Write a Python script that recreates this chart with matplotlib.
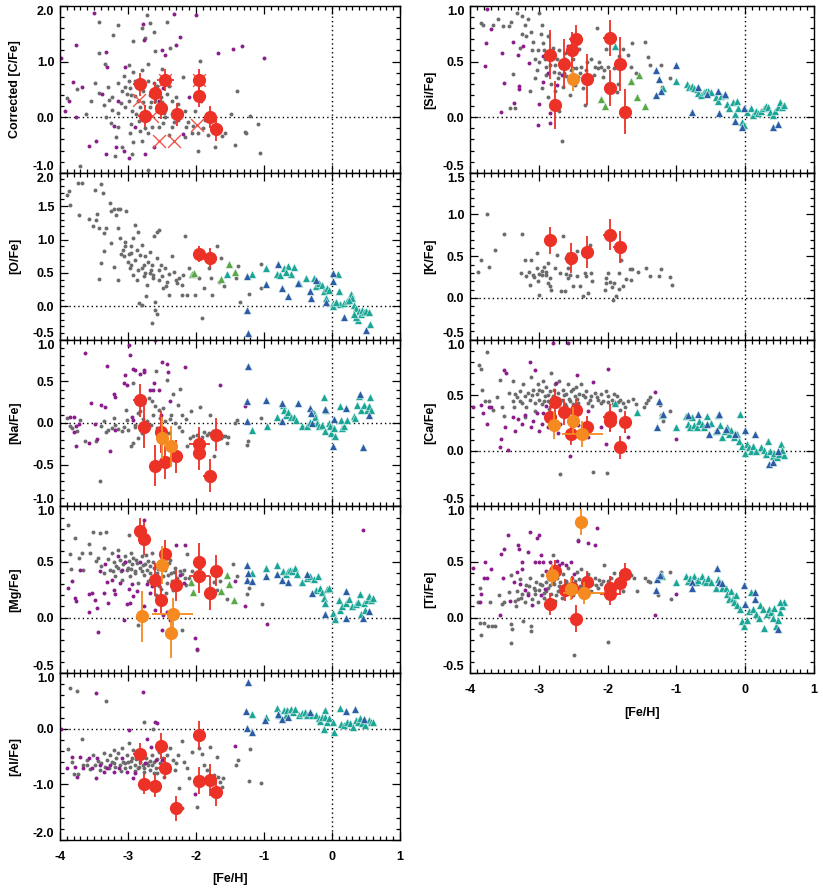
import numpy as np
import matplotlib.pyplot as plt
from matplotlib.ticker import MultipleLocator

plt.rcParams['font.family'] = ['Liberation Sans', 'DejaVu Sans']
plt.rcParams['font.weight'] = 'bold'
plt.rcParams['axes.labelweight'] = 'bold'
plt.rcParams['axes.unicode_minus'] = False

# ---------------------------------------------------------------- data
# points are ([Fe/H], [X/Fe]); red / orange stars carry (x, y, xerr, yerr)

c_grey = [(-3.70, -0.88), (-3.89, 0.35), (-3.75, 0.50), (-3.43, 1.72), (-3.43, 1.15), (-3.34, 0.96),
          (-3.48, 0.61), (-3.43, 0.43), (-3.28, 0.31), (-3.23, 0.13), (-3.33, 0.0), (-3.22, 1.47),
          (-3.15, 1.66), (-3.06, 0.74), (-2.99, 0.94), (-2.97, 0.52), (-2.92, 0.82), (-2.89, 0.38),
          (-3.04, 0.19), (-3.14, 0.07), (-2.97, -0.29), (-3.09, -0.53), (-3.19, -0.70), (-2.94, -0.67),
          (-2.92, 1.37), (-2.80, 1.60), (-2.72, 1.84), (-2.67, 1.69), (-2.62, 1.54), (-2.75, 1.42),
          (-2.60, 1.19), (-2.70, 0.96), (-2.80, 0.84), (-2.70, 0.66), (-2.58, 0.57), (-2.60, 0.30),
          (-2.67, 0.18), (-2.55, -0.18), (-2.70, -0.29), (-2.80, -0.42), (-2.70, -0.95), (-2.43, 1.72),
          (-2.38, 1.25), (-2.50, 0.86), (-2.40, 0.57), (-2.36, 0.30), (-2.45, 0.0), (-2.26, 0.24),
          (-2.19, 0.72), (-2.16, 0.12), (-2.14, -0.18), (-2.01, 0.12), (-1.94, 1.01), (-1.92, 0.30),
          (-1.87, -0.05), (-1.97, -0.29), (-1.72, -0.23), (-1.65, -0.17), (-1.58, -0.29), (-1.72, -0.53),
          (-1.48, 0.06), (-1.42, -0.50), (-1.40, 0.48), (-1.28, -0.27), (-1.26, -0.29), (-1.21, 0.03),
          (-1.09, -0.12), (-1.06, -0.64), (-2.16, -0.35), (-2.06, -0.29), (-2.36, -0.18), (-2.26, -0.05),
          (-2.94, 0.12), (-2.84, -0.06), (-3.14, -0.18), (-3.23, 0.36), (-3.09, 0.48), (-2.99, 0.30),
          (-2.89, 0.66), (-2.82, 0.18), (-2.55, 0.48), (-2.45, 0.18), (-2.30, 0.36), (-2.65, -0.18),
          (-2.36, 0.06), (-1.97, -0.60), (-3.02, 0.42), (-2.86, 0.55), (-2.78, 0.28), (-2.68, 0.40),
          (-2.58, 0.12), (-2.50, 0.28), (-2.88, 0.05), (-3.10, 0.25), (-2.95, -0.12), (-2.75, -0.20),
          (-2.62, 0.62), (-2.48, -0.10), (-3.30, 0.55), (-3.18, -0.35), (-2.40, -0.32), (-3.05, 0.55),
          (-2.95, 0.40), (-2.85, 0.30), (-2.78, 0.48), (-2.72, 0.10), (-2.66, 0.28), (-2.60, 0.45),
          (-2.52, 0.36), (-2.47, 0.08), (-2.42, 0.42), (-2.33, -0.08), (-2.22, 0.02), (-2.12, -0.08),
          (-2.05, -0.15), (-1.90, -0.20), (-1.82, -0.32), (-1.62, -0.33), (-3.35, 0.22), (-3.15, 0.62),
          (-2.98, 0.65), (-2.83, -0.25), (-2.92, -0.45), (-3.25, -0.10), (-3.55, 0.30), (-3.62, 0.05)]
c_purple = [(-3.99, 1.06), (-3.76, 1.30), (-3.81, 0.63), (-3.50, 1.88), (-3.33, 1.18), (-3.31, 0.91),
            (-3.38, 0.42), (-3.57, -0.52), (-3.47, -0.43), (-3.33, -0.67), (-3.18, -0.53), (-3.06, -0.60),
            (-2.99, -0.73), (-2.89, -0.18), (-3.04, 0.91), (-2.77, 1.38), (-2.78, 1.67), (-2.50, 1.20),
            (-2.45, 1.11), (-2.33, 1.85), (-2.30, 1.30), (-2.23, 1.44), (-2.00, 1.83), (-1.68, 1.15),
            (-1.46, 1.22), (-1.32, 1.28), (-1.00, 1.07), (-2.48, 0.52), (-2.55, 0.30), (-3.14, 0.30),
            (-3.21, -0.15), (-2.75, -0.67), (-2.62, -0.54), (-2.19, -0.30), (-3.77, 0.0), (-3.92, 0.12),
            (-3.67, 0.55), (-3.87, 0.30), (-2.11, 0.36)]
c_cross = [(-2.84, 0.31), (-2.64, 0.03), (-2.54, -0.43), (-2.32, -0.43), (-1.98, -0.14),
           (-2.45, 0.67), (-1.95, 0.67)]
c_red = [(-2.82, 0.59, 0.1, 0.2), (-2.61, 0.43, 0.05, 0.2), (-2.45, 0.67, 0.12, 0.2),
         (-2.75, 0.02, 0.1, 0.2), (-2.52, 0.16, 0.05, 0.2), (-2.28, 0.05, 0.05, 0.2),
         (-1.95, 0.67, 0.1, 0.2), (-1.95, 0.38, 0.1, 0.2), (-1.80, 0.0, 0.05, 0.2),
         (-1.71, -0.22, 0.05, 0.2)]

o_grey = [(-3.89, 1.66), (-3.87, 1.72), (-3.86, 1.51), (-3.73, 1.85), (-3.68, 1.84), (-3.72, 1.37),
          (-3.57, 1.31), (-3.52, 1.21), (-3.48, 1.74), (-3.40, 1.83), (-3.37, 1.70), (-3.47, 1.30),
          (-3.46, 1.38), (-3.42, 1.18), (-3.40, 0.65), (-3.42, 0.41), (-3.36, 0.83), (-3.35, 1.10),
          (-3.32, 1.18), (-3.27, 1.55), (-3.25, 1.42), (-3.20, 1.46), (-3.17, 1.37), (-3.15, 1.45),
          (-3.12, 1.46), (-3.03, 1.42), (-3.20, 0.59), (-3.14, 0.39), (-3.14, 1.17), (-3.12, 1.02),
          (-3.08, 0.85), (-3.06, 0.75), (-3.04, 0.97), (-3.00, 0.67), (-2.97, 0.57), (-2.95, 0.80),
          (-2.93, 0.47), (-2.92, 1.02), (-2.90, 1.22), (-2.87, 0.85), (-2.87, 0.40), (-2.85, 1.12),
          (-2.83, 0.77), (-2.80, 0.57), (-2.79, 0.92), (-2.77, 0.45), (-2.84, 0.05), (-2.80, 0.02),
          (-2.75, 0.76), (-2.74, 0.15), (-2.72, 0.32), (-2.70, 0.67), (-2.68, 0.82), (-2.66, 0.55),
          (-2.63, 0.42), (-2.62, 1.05), (-2.58, 1.12), (-2.55, 1.14), (-2.60, 0.07), (-2.58, -0.12),
          (-2.60, -0.05), (-2.63, 0.47), (-2.57, 0.72), (-2.52, 0.62), (-2.49, 0.27), (-2.46, 0.57),
          (-2.42, 0.37), (-2.39, 0.17), (-2.35, 0.75), (-2.32, 0.52), (-2.28, 0.35), (-2.25, 0.42),
          (-2.21, 0.17), (-2.19, 0.47), (-2.16, 1.05), (-2.13, 0.17), (-2.11, 0.57), (-2.01, 0.17),
          (-1.96, 0.42), (-1.91, -0.18), (-1.88, 0.27), (-1.81, 0.57), (-1.78, 0.42), (-1.76, 0.17),
          (-1.69, 0.91), (-1.66, 0.37), (-1.63, 0.72), (-1.59, 0.30), (-1.41, 0.43), (-1.38, 0.61),
          (-1.35, 0.06), (-1.22, 0.18), (-1.04, 0.63), (-1.05, 0.27), (-2.64, -0.25), (-2.98, 0.78),
          (-2.76, 0.62), (-2.54, 0.40), (-2.44, 0.30), (-2.68, 0.50), (-3.05, 0.90), (-2.90, 0.70),
          (-3.10, 0.78), (-2.95, 0.62), (-2.85, 0.55), (-2.75, 0.50), (-2.65, 0.62), (-2.55, 0.55),
          (-2.50, 0.45), (-2.40, 0.48), (-2.30, 0.40), (-2.20, 0.32), (-2.95, 0.90), (-3.25, 0.95)]
o_green = [(-2.06, 0.49), (-2.03, 0.50), (-1.63, 0.41), (-1.51, 0.63), (-1.43, 0.52)]
o_teal = [(-1.54, 0.49), (-1.18, 0.49), (-0.97, 0.58), (-0.81, 0.49), (-0.76, 0.47), (-0.70, 0.58),
          (-0.65, 0.60), (-0.60, 0.48), (-0.56, 0.59), (-0.68, 0.51), (-0.49, 0.35), (-0.38, 0.43),
          (-0.27, 0.43), (-0.24, 0.30), (-0.19, 0.35), (-0.15, 0.32), (-0.12, 0.23), (-0.09, 0.13),
          (-0.07, 0.28), (-0.04, 0.25), (0.01, 0.05), (0.02, 0.0), (0.09, 0.49), (0.11, 0.23),
          (0.12, 0.03), (0.17, 0.05), (0.22, 0.08), (0.28, 0.18), (0.29, 0.12), (0.33, 0.02),
          (0.36, -0.02), (0.39, -0.07), (0.42, -0.12), (0.44, -0.05), (0.47, -0.08), (0.50, -0.07),
          (0.54, -0.08), (0.56, -0.27), (0.38, -0.20), (0.35, -0.16), (0.32, -0.12), (0.25, 0.10),
          (0.06, 0.07)]
o_blue = [(-1.25, 0.45), (-1.25, -0.05), (-1.23, -0.40), (-0.97, 0.33), (-0.79, 0.64), (-0.74, 0.27),
          (-0.65, 0.16), (-0.50, 0.35), (-0.33, 0.23), (-0.31, 0.12), (-0.24, 0.40), (-0.09, 0.07),
          (0.01, 0.50), (0.01, 0.38), (0.17, -0.16), (0.50, -0.36)]
o_red = [(-1.95, 0.79, 0.1, 0.12), (-1.80, 0.73, 0.1, 0.15)]

na_grey = [(-3.90, 0.06), (-3.85, -0.03), (-3.83, -0.06), (-3.71, 0.03), (-3.75, -0.10), (-3.63, -0.22),
           (-3.47, -0.21), (-3.41, -0.70), (-3.39, -0.03), (-3.36, 0.02), (-3.32, -0.11), (-3.29, -0.08),
           (-3.24, -0.06), (-3.21, 0.06), (-3.19, -0.02), (-3.14, -0.07), (-3.09, -0.10), (-3.06, -0.05),
           (-3.03, 0.16), (-3.01, 0.04), (-2.96, -0.28), (-2.93, -0.24), (-2.92, 0.48), (-2.89, -0.05),
           (-2.86, -0.18), (-2.85, 0.12), (-2.82, 0.14), (-2.80, -0.12), (-2.76, 0.24), (-2.72, 0.02),
           (-2.71, -0.06), (-2.69, 0.30), (-2.65, 0.26), (-2.63, 0.10), (-2.61, 0.20), (-2.59, 0.62),
           (-2.58, -0.06), (-2.55, 0.15), (-2.53, 0.06), (-2.48, 0.18), (-2.45, 0.02), (-2.43, 0.52),
           (-2.40, -0.12), (-2.37, 0.09), (-2.34, 0.35), (-2.31, 0.0), (-2.27, 0.21), (-2.24, 0.41),
           (-2.21, -0.10), (-2.20, 0.10), (-2.13, -0.28), (-2.09, -0.18), (-2.08, 0.14), (-2.05, -0.15),
           (-1.99, -0.14), (-1.94, 0.19), (-1.91, -0.17), (-1.88, -0.11), (-1.84, -0.14), (-1.81, -0.12),
           (-1.79, 0.09), (-1.75, -0.10), (-1.69, -0.16), (-1.67, -0.14), (-1.63, -0.18), (-1.60, -0.16),
           (-1.57, -0.15), (-1.54, -0.24), (-1.53, -0.17), (-1.42, 0.0), (-1.39, 0.03), (-1.25, -0.26),
           (-1.24, -0.22), (-1.05, 0.06), (-1.74, -0.39), (-2.90, -0.02), (-2.78, 0.05), (-2.66, -0.02),
           (-2.52, -0.05), (-2.38, 0.05), (-2.25, -0.05), (-2.15, 0.05), (-3.00, -0.08)]
na_purple = [(-3.86, 0.07), (-3.79, 0.07), (-3.76, -0.03), (-3.72, -0.01), (-3.80, -0.11), (-3.76, -0.28),
             (-3.63, 0.84), (-3.58, -0.24), (-3.54, 0.24), (-3.49, -0.01), (-3.46, -0.19), (-3.39, 0.21),
             (-3.34, 0.19), (-3.31, 0.68), (-3.26, -0.33), (-3.21, 0.35), (-3.19, 0.31), (-3.19, -0.08),
             (-2.99, 0.94), (-2.97, 0.81), (-3.04, 0.57), (-3.06, 0.48), (-3.02, 0.45), (-2.93, 0.65),
             (-2.89, 0.64), (-2.94, 0.07), (-2.92, 0.04), (-2.83, 0.59), (-2.77, 0.61), (-2.76, 0.63),
             (-2.67, 0.40), (-2.62, 0.48), (-2.63, 0.39), (-2.60, 1.0), (-2.50, 0.73), (-2.43, 0.71),
             (-2.41, 0.61), (-2.54, 0.39), (-2.38, 0.26), (-2.16, 0.67), (-1.65, 0.45), (-1.28, 0.20),
             (-2.51, 0.10)]
na_blue = [(-1.24, 0.68), (-1.25, 0.26), (-1.25, 0.02), (-0.97, 0.28), (-0.74, 0.24), (-0.73, 0.02),
           (-0.50, 0.24), (-0.33, 0.18), (-0.31, 0.12), (-0.10, 0.17), (0.02, -0.27), (0.03, 0.05),
           (0.20, 0.18), (0.41, 0.35), (0.46, -0.29), (0.54, 0.09), (-0.29, 0.0)]
na_teal = [(-1.17, -0.08), (-0.96, -0.04), (-0.81, 0.07), (-0.72, 0.22), (-0.70, 0.15), (-0.67, 0.09),
           (-0.64, 0.13), (-0.60, 0.07), (-0.56, 0.07), (-0.53, 0.03), (-0.44, -0.03), (-0.37, -0.04),
           (-0.32, 0.01), (-0.27, 0.12), (-0.25, 0.07), (-0.22, 0.0), (-0.19, -0.03), (-0.15, -0.02),
           (-0.12, 0.31), (-0.10, -0.10), (-0.09, 0.15), (-0.05, 0.0), (-0.03, -0.03), (-0.01, -0.12),
           (0.03, -0.06), (0.04, -0.16), (0.12, 0.20), (0.13, 0.04), (0.15, -0.06), (0.18, -0.04),
           (0.22, 0.04), (0.32, 0.08), (0.34, 0.06), (0.37, 0.22), (0.39, 0.32), (0.43, 0.15),
           (0.47, 0.22), (0.51, 0.16), (0.54, 0.20), (0.58, 0.16), (0.56, 0.31)]
na_red = [(-2.82, 0.27, 0.1, 0.2), (-2.76, -0.05, 0.05, 0.25), (-2.61, -0.51, 0.05, 0.25),
          (-2.52, -0.11, 0.05, 0.25), (-2.46, -0.47, 0.05, 0.2), (-2.29, -0.40, 0.05, 0.2),
          (-1.95, -0.25, 0.15, 0.2), (-1.95, -0.36, 0.05, 0.2), (-1.80, -0.63, 0.1, 0.2),
          (-1.71, -0.14, 0.05, 0.2)]
na_orange = [(-2.50, -0.18, 0.05, 0.25), (-2.37, -0.28, 0.1, 0.25)]

mg_grey = [(-3.88, 0.83), (-3.85, 0.57), (-3.84, 0.44), (-3.78, 0.72), (-3.72, 0.54), (-3.67, 0.58),
           (-3.66, 0.43), (-3.58, 0.66), (-3.56, 0.58), (-3.51, 0.77), (-3.47, 0.51), (-3.44, 0.54),
           (-3.41, 0.76), (-3.39, 0.46), (-3.36, 0.63), (-3.32, 0.77), (-3.29, 0.53), (-3.26, 0.43),
           (-3.24, 0.58), (-3.21, 0.50), (-3.19, 0.37), (-3.17, 0.46), (-3.14, 0.61), (-3.12, 0.52),
           (-3.09, 0.34), (-3.07, 0.48), (-3.04, 0.55), (-3.02, 0.43), (-2.99, 0.51), (-2.98, 0.74),
           (-2.97, 0.37), (-2.94, 0.48), (-2.92, 0.54), (-2.89, 0.42), (-2.87, 0.49), (-2.85, 0.31),
           (-2.82, 0.45), (-2.80, 0.55), (-2.77, 0.38), (-2.75, 0.48), (-2.72, 0.43), (-2.70, 0.51),
           (-2.67, 0.40), (-2.65, 0.58), (-2.62, 0.45), (-2.60, 0.34), (-2.58, 0.40), (-2.55, 0.28),
           (-2.53, 0.48), (-2.48, 0.37), (-2.45, 0.43), (-2.43, 0.31), (-2.40, 0.49), (-2.37, 0.40),
           (-2.34, 0.25), (-2.31, 0.45), (-2.28, 0.36), (-2.24, 0.42), (-2.21, 0.39), (-2.18, 0.43),
           (-2.14, 0.29), (-2.13, 0.57), (-2.11, 0.36), (-2.06, 0.42), (-1.99, 0.34), (-1.94, 0.45),
           (-1.89, 0.39), (-1.80, 0.27), (-1.74, 0.32), (-1.69, 0.25), (-1.64, 0.33), (-1.54, 0.17),
           (-1.45, 0.48), (-1.40, 0.37), (-1.25, 0.21), (-1.22, 0.27), (-1.03, 0.12), (-2.86, -0.07),
           (-2.21, -0.11), (-1.99, -0.29), (-2.59, 0.20), (-3.00, 0.45), (-2.90, 0.40), (-2.78, 0.47),
           (-2.68, 0.46), (-2.56, 0.44), (-2.50, 0.52), (-2.35, 0.33), (-3.10, 0.42), (-2.95, 0.58),
           (-3.15, 0.45), (-3.05, 0.50), (-2.96, 0.44), (-2.88, 0.52), (-2.80, 0.42), (-2.73, 0.56),
           (-2.63, 0.50), (-2.57, 0.36), (-2.47, 0.45), (-2.41, 0.38), (-2.32, 0.41), (-2.26, 0.32),
           (-2.16, 0.36), (-2.08, 0.30), (-3.22, 0.42), (-3.35, 0.40), (-2.70, 0.33), (-2.52, 0.26),
           (-2.44, 0.22), (-2.38, 0.52)]
mg_purple = [(0.46, 0.79), (-0.96, -0.06), (-1.28, 0.10), (-1.42, 0.33), (-2.01, -0.18), (-1.99, -0.28),
             (-2.16, 0.65), (-2.76, 0.88), (-3.88, 0.27), (-3.78, 0.18), (-3.76, 0.15), (-3.83, 0.33),
             (-3.71, 0.43), (-3.58, 0.21), (-3.57, 0.05), (-3.53, 0.22), (-3.48, 0.16), (-3.46, 0.09),
             (-3.44, -0.13), (-3.41, 0.42), (-3.36, 0.22), (-3.34, 0.48), (-3.31, 0.32), (-3.29, 0.13),
             (-3.24, 0.34), (-3.21, 0.25), (-3.19, 0.21), (-3.14, 0.55), (-3.12, 0.31), (-3.09, 0.43),
             (-3.06, -0.02), (-3.04, 0.50), (-3.02, 0.12), (-2.99, 0.26), (-2.94, 0.30), (-2.92, 0.19),
             (-2.87, 0.24), (-2.82, 0.50), (-2.77, 0.10), (-2.72, 0.30), (-2.67, 0.22), (-2.65, 0.28),
             (-2.61, 0.07), (-2.58, 0.46), (-2.54, 0.31), (-2.50, -0.11), (-2.48, 0.02), (-2.43, 0.05),
             (-2.38, -0.02), (-2.30, 0.65), (-2.23, 0.38), (-2.18, 0.31), (-2.97, 0.13)]
mg_green = [(-2.08, 0.32), (-2.04, 0.23), (-1.63, 0.24), (-1.52, 0.30), (-1.44, 0.16), (-1.54, 0.38)]
mg_blue = [(-1.25, 0.47), (-1.25, 0.34), (-1.24, 0.40), (-1.17, 0.33), (-0.97, 0.37), (-0.81, 0.39),
           (-0.74, 0.34), (-0.65, 0.32), (-0.37, 0.39), (-0.29, 0.22), (-0.10, 0.03), (0.20, 0.24),
           (0.20, 0.0), (0.46, 0.0), (0.54, 0.06)]
mg_teal = [(-1.17, 0.40), (-0.97, 0.45), (-0.81, 0.47), (-0.72, 0.42), (-0.68, 0.39), (-0.65, 0.42),
           (-0.62, 0.43), (-0.59, 0.42), (-0.55, 0.45), (-0.52, 0.39), (-0.44, 0.32), (-0.37, 0.36),
           (-0.33, 0.37), (-0.27, 0.35), (-0.24, 0.25), (-0.20, 0.37), (-0.17, 0.27), (-0.15, 0.23),
           (-0.12, 0.18), (-0.10, 0.13), (-0.08, 0.26), (-0.05, 0.27), (0.02, 0.04), (0.04, -0.01),
           (0.10, 0.16), (0.12, 0.07), (0.15, 0.10), (0.20, 0.13), (0.25, 0.17), (0.30, 0.10),
           (0.35, 0.12), (0.38, 0.14), (0.41, 0.21), (0.43, 0.03), (0.47, 0.13), (0.51, 0.16),
           (0.54, 0.19), (0.58, 0.16), (0.61, 0.18), (0.49, 0.07)]
mg_red = [(-2.82, 0.78, 0.05, 0.12), (-2.76, 0.71, 0.05, 0.15), (-2.61, 0.34, 0.05, 0.15),
          (-2.52, 0.16, 0.05, 0.12), (-2.46, 0.57, 0.05, 0.13), (-2.29, 0.29, 0.05, 0.14),
          (-1.95, 0.50, 0.05, 0.17), (-1.95, 0.37, 0.15, 0.15), (-1.80, 0.22, 0.05, 0.15),
          (-1.71, 0.42, 0.05, 0.14)]
mg_orange = [(-2.79, 0.01, 0.05, 0.23), (-2.50, 0.47, 0.05, 0.17), (-2.34, 0.03, 0.3, 0.15),
             (-2.37, -0.14, 0.08, 0.22)]

al_grey = [(-3.85, 0.74), (-3.75, 0.68), (-3.32, 0.50), (-3.88, -0.37), (-3.83, -0.60), (-3.80, -0.81),
           (-3.73, -0.81), (-3.68, -0.19), (-3.66, -0.65), (-3.61, -0.56), (-3.56, -0.72), (-3.51, -0.47),
           (-3.48, -0.65), (-3.44, -0.58), (-3.41, -0.74), (-3.36, -0.44), (-3.34, -0.68), (-3.31, -0.56),
           (-3.26, -0.48), (-3.24, -0.60), (-3.21, -0.38), (-3.19, -0.68), (-3.17, -0.52), (-3.14, -0.44),
           (-3.12, -0.65), (-3.09, -0.35), (-3.07, -0.59), (-3.04, -0.71), (-3.02, -0.47), (-2.99, -0.26),
           (-2.97, -0.68), (-2.94, -0.53), (-2.92, -0.38), (-2.89, -0.65), (-2.87, -0.50), (-2.85, -0.71),
           (-2.82, -0.59), (-2.80, -0.41), (-2.77, -0.71), (-2.76, 0.12), (-2.73, -0.53), (-2.70, -0.65),
           (-2.67, -0.74), (-2.65, -0.47), (-2.63, 0.0), (-2.62, -0.59), (-2.59, -0.71), (-2.55, -0.41),
           (-2.53, -0.62), (-2.49, -0.53), (-2.47, -0.86), (-2.43, -0.48), (-2.41, -0.65), (-2.38, -0.35),
           (-2.34, -0.56), (-2.31, -0.74), (-2.27, -0.47), (-2.25, -1.07), (-2.21, -0.22), (-2.17, -0.59),
           (-2.13, -0.71), (-2.11, -0.89), (-2.06, -0.41), (-1.99, -1.41), (-1.96, -0.35), (-1.91, -0.46),
           (-1.88, -0.65), (-1.84, -0.74), (-1.79, -0.32), (-1.74, -0.83), (-1.69, -0.50), (-1.67, -0.86),
           (-1.64, -0.95), (-1.62, -1.05), (-1.60, -0.89), (-1.41, -0.65), (-1.38, -0.57), (-1.22, -0.93),
           (-1.20, -0.36), (-1.04, -0.98), (-2.21, -1.43), (-3.00, -0.60), (-2.90, -0.75), (-2.78, -0.66),
           (-2.68, -0.58), (-2.58, -0.80), (-2.45, -0.72), (-3.10, -0.76), (-3.28, -0.70), (-3.20, -0.62),
           (-3.05, -0.62), (-2.95, -0.58), (-2.84, -0.68), (-2.72, -0.62), (-2.64, -0.66), (-2.57, -0.55),
           (-2.50, -0.68), (-2.40, -0.75), (-2.30, -0.62), (-3.40, -0.62), (-3.60, -0.66), (-2.88, -0.55),
           (-2.76, -0.78), (-2.62, -0.80)]
al_purple = [(-3.98, 0.0), (-3.83, -0.50), (-3.90, -0.71), (-3.78, -0.68), (-3.71, -0.50), (-3.58, -0.53),
             (-3.53, -0.71), (-3.47, 0.64), (-3.46, -0.53), (-3.41, -0.65), (-3.36, -0.77), (-3.31, -0.71),
             (-3.26, -0.65), (-3.21, -0.77), (-3.13, -0.71), (-3.09, -0.53), (-3.02, -0.77), (-2.98, -0.02),
             (-2.92, -0.89), (-2.89, -0.80), (-2.78, 0.66), (-2.75, -0.62), (-2.72, -0.19), (-2.66, -0.32),
             (-2.60, 0.13), (-2.57, 0.10), (-2.59, -0.56), (-2.50, -0.56), (-2.44, -0.77), (-2.01, -1.17),
             (-1.42, -0.31), (-3.75, -0.86), (-3.66, -0.71), (-3.47, -0.89)]
al_blue = [(-1.23, 0.84), (-1.26, 0.32), (-1.25, 0.02), (-1.18, -0.06), (-0.98, 0.16), (-0.80, 0.27),
           (-0.73, 0.17), (-0.65, 0.22), (-0.33, 0.30), (0.20, 0.32), (0.34, 0.36), (0.47, 0.18)]
al_teal = [(-1.18, 0.26), (-0.97, 0.22), (-0.81, 0.37), (-0.78, 0.25), (-0.71, 0.34), (-0.68, 0.25),
           (-0.66, 0.33), (-0.61, 0.36), (-0.57, 0.31), (-0.54, 0.36), (-0.49, 0.24), (-0.44, 0.28),
           (-0.39, 0.31), (-0.37, 0.25), (-0.29, 0.25), (-0.24, 0.25), (-0.19, 0.19), (-0.17, 0.14),
           (-0.14, 0.22), (-0.11, 0.34), (-0.10, 0.22), (-0.07, 0.12), (-0.05, 0.19), (0.02, 0.12),
           (0.03, -0.06), (0.12, 0.38), (0.13, 0.08), (0.17, 0.06), (0.22, 0.13), (0.27, 0.10),
           (0.31, 0.04), (0.35, 0.16), (0.38, 0.13), (0.41, 0.19), (0.44, 0.10), (0.49, 0.07),
           (0.54, 0.16), (0.58, 0.13), (0.61, 0.12), (-0.12, 0.0)]
al_red = [(-2.82, -0.46, 0.1, 0.2), (-2.76, -0.99, 0.05, 0.18), (-2.61, -1.02, 0.05, 0.2),
          (-2.52, -0.31, 0.05, 0.24), (-2.46, -0.71, 0.1, 0.2), (-2.29, -1.43, 0.05, 0.22),
          (-1.95, -0.11, 0.1, 0.25), (-1.95, -0.93, 0.05, 0.25), (-1.80, -0.92, 0.05, 0.28),
          (-1.71, -1.13, 0.05, 0.25)]

si_grey = [(-3.84, 0.85), (-3.81, 0.83), (-3.66, 0.83), (-3.59, 0.88), (-3.52, 0.82), (-3.44, 0.82),
           (-3.40, 0.86), (-3.32, 0.94), (-3.42, 0.08), (-3.35, 0.08), (-3.37, 0.39), (-3.25, 0.91),
           (-3.20, 0.83), (-3.18, 0.73), (-3.15, 0.88), (-3.13, 0.24), (-3.11, 0.77), (-3.08, 0.68),
           (-3.06, 0.52), (-3.03, 0.42), (-3.01, 0.60), (-2.99, 0.94), (-2.97, 0.75), (-2.95, 0.26),
           (-2.94, 0.67), (-2.91, 0.52), (-2.89, 0.38), (-2.86, 0.73), (-2.86, 0.18), (-2.84, 0.47),
           (-2.82, 0.30), (-2.79, 0.62), (-2.78, 0.41), (-2.77, 0.24), (-2.74, 0.52), (-2.72, 0.35),
           (-2.71, 0.06), (-2.68, 0.45), (-2.67, -0.21), (-2.65, 0.27), (-2.62, 0.58), (-2.60, 0.37),
           (-2.57, 0.47), (-2.55, 0.20), (-2.53, 0.42), (-2.50, 0.52), (-2.48, 0.29), (-2.43, 0.36),
           (-2.41, 0.61), (-2.38, 0.45), (-2.36, 0.26), (-2.33, 0.11), (-2.31, 0.42), (-2.29, 0.33),
           (-2.24, 0.52), (-2.19, 0.45), (-2.15, 0.80), (-2.14, 0.44), (-2.10, 0.45), (-2.07, 0.36),
           (-2.03, 0.61), (-2.00, 0.45), (-1.99, 0.30), (-1.90, 0.44), (-1.87, 0.23), (-1.83, 0.55),
           (-1.78, 0.61), (-1.71, 0.56), (-1.66, 0.45), (-1.65, 0.67), (-1.58, 0.40), (-1.46, 0.68),
           (-1.42, 0.54), (-1.38, 0.47), (-1.23, 0.47), (-1.21, 0.27), (-1.09, 0.35), (-1.85, 0.30),
           (-3.05, 0.35), (-2.92, 0.60), (-2.80, 0.15), (-2.64, 0.40), (-2.46, 0.44), (-3.28, 0.62),
           (-3.10, 0.60), (-3.00, 0.50), (-2.90, 0.45), (-2.83, 0.55), (-2.76, 0.47), (-2.70, 0.40),
           (-2.60, 0.50), (-2.50, 0.44), (-2.40, 0.40), (-2.30, 0.50), (-2.20, 0.38), (-2.12, 0.50),
           (-2.05, 0.42), (-3.25, 0.75), (-2.96, 0.83), (-2.70, 0.60)]
si_purple = [(-3.75, 0.97), (-3.77, 0.67), (-3.78, 0.46), (-3.70, 0.79), (-3.53, 0.58), (-3.50, 0.31),
             (-3.55, 0.05), (-3.38, 0.68), (-3.36, 0.13), (-3.30, 0.56), (-3.29, 0.28), (-3.29, 0.25),
             (-3.23, 0.64), (-3.14, 0.49), (-3.01, -0.07), (-3.00, 0.12), (-2.94, 0.55), (-2.94, 0.32),
             (-2.87, 0.40), (-2.84, -0.05), (-2.84, 0.04), (-2.73, 0.29), (-2.67, 0.38), (-2.62, 0.52),
             (-2.57, 0.64)]
si_green = [(-2.10, 0.16), (-2.04, 0.10), (-1.66, 0.33), (-1.57, 0.18), (-1.54, 0.38), (-1.46, 0.10)]
si_teal = [(-1.89, 0.64), (-1.20, 0.26), (-1.00, 0.33), (-0.85, 0.30), (-0.81, 0.27), (-0.78, 0.28),
           (-0.74, 0.26), (-0.70, 0.25), (-0.68, 0.22), (-0.64, 0.20), (-0.60, 0.23), (-0.57, 0.24),
           (-0.54, 0.24), (-0.50, 0.23), (-0.43, 0.18), (-0.40, 0.15), (-0.35, 0.19), (-0.30, 0.20),
           (-0.26, 0.12), (-0.23, 0.08), (-0.18, 0.14), (-0.15, 0.03), (-0.12, 0.15), (-0.10, 0.08),
           (-0.04, -0.04), (-0.02, -0.07), (0.03, 0.05), (0.08, 0.08), (0.12, 0.02), (0.15, 0.06),
           (0.19, 0.04), (0.23, 0.06), (0.27, 0.08), (0.30, 0.10), (0.33, 0.09), (0.36, 0.05),
           (0.40, 0.02), (0.43, 0.06), (0.47, 0.09), (0.50, 0.14), (0.54, 0.09), (0.57, 0.11)]
si_blue = [(-1.29, 0.42), (-1.26, 0.34), (-1.22, 0.24), (-1.29, 0.20), (-1.00, 0.47), (-0.78, 0.05),
           (-0.69, 0.27), (-0.55, 0.21), (-0.39, 0.24), (-0.38, 0.04), (-0.29, 0.21), (-0.15, -0.03),
           (-0.04, -0.09), (-0.02, 0.08), (0.40, -0.09), (0.48, -0.06)]
si_red = [(-2.83, 0.56, 0.1, 0.22), (-2.76, 0.11, 0.05, 0.22), (-2.63, 0.48, 0.05, 0.22),
          (-2.52, 0.60, 0.05, 0.17), (-2.46, 0.70, 0.1, 0.13), (-2.30, 0.34, 0.05, 0.23),
          (-1.96, 0.71, 0.1, 0.16), (-1.96, 0.26, 0.05, 0.16), (-1.82, 0.48, 0.05, 0.24),
          (-1.74, 0.05, 0.05, 0.2)]
si_orange = [(-2.50, 0.34, 0.05, 0.1)]

k_grey = [(-3.88, 0.31), (-3.84, 0.46), (-3.75, 1.01), (-3.72, 0.37), (-3.64, 0.58), (-3.50, 0.77),
          (-3.26, 0.30), (-3.24, 0.77), (-3.20, 0.46), (-3.19, 0.26), (-3.14, 0.31), (-3.13, 0.15),
          (-3.12, 0.45), (-3.08, 0.28), (-3.07, 0.25), (-3.03, 0.36), (-3.02, 0.54), (-3.01, 0.20),
          (-3.00, 0.04), (-2.99, 0.29), (-2.96, 0.32), (-2.95, 0.27), (-2.92, 0.37), (-2.90, 0.31),
          (-2.89, 0.28), (-2.87, 0.42), (-2.86, 0.18), (-2.84, 0.24), (-2.83, 0.14), (-2.82, 0.10),
          (-2.76, 0.36), (-2.73, 0.52), (-2.69, 0.30), (-2.68, 0.08), (-2.65, 0.74), (-2.62, 0.08),
          (-2.61, 0.29), (-2.60, 0.48), (-2.58, 0.24), (-2.57, 0.36), (-2.57, 0.53), (-2.55, 0.42),
          (-2.54, 0.28), (-2.50, 0.14), (-2.45, 0.26), (-2.44, 0.56), (-2.40, 0.14), (-2.36, 0.02),
          (-2.33, 0.30), (-2.31, 0.26), (-2.29, 0.06), (-2.26, 0.64), (-2.24, 0.30), (-2.23, 0.20),
          (-2.04, 0.09), (-2.02, 0.18), (-2.02, 0.24), (-1.99, 0.30), (-1.97, 0.19), (-1.94, 0.13),
          (-1.92, -0.03), (-1.91, 0.18), (-1.88, 0.02), (-1.84, 0.30), (-1.83, 0.11), (-1.80, 0.46),
          (-1.78, 0.14), (-1.73, 0.23), (-1.68, 0.35), (-1.66, 0.21), (-1.64, 0.35), (-1.56, 0.31),
          (-1.44, 0.36), (-1.39, 0.26), (-1.25, 0.26), (-1.22, 0.35), (-1.09, 0.25), (-1.07, 0.16)]
k_red = [(-2.83, 0.69, 0.1, 0.16), (-2.53, 0.48, 0.05, 0.18), (-2.30, 0.55, 0.05, 0.19),
         (-1.96, 0.76, 0.1, 0.19), (-1.82, 0.61, 0.1, 0.19)]

ca_grey = [(-3.87, 0.77), (-3.84, 0.74), (-3.75, 0.89), (-3.83, 0.55), (-3.78, 0.45), (-3.72, 0.45),
           (-3.66, 0.37), (-3.61, 0.48), (-3.57, 0.64), (-3.53, 0.39), (-3.50, 0.31), (-3.44, 0.52),
           (-3.38, 0.63), (-3.37, 0.45), (-3.36, 0.39), (-3.34, 0.51), (-3.31, 0.48), (-3.28, 0.54),
           (-3.25, 0.43), (-3.23, 0.60), (-3.20, 0.49), (-3.18, 0.39), (-3.15, 0.52), (-3.13, 0.46),
           (-3.11, 0.66), (-3.08, 0.55), (-3.06, 0.43), (-3.03, 0.51), (-3.01, 0.60), (-2.99, 0.46),
           (-2.96, 0.54), (-2.94, 0.63), (-2.91, 0.49), (-2.89, 0.57), (-2.87, 0.45), (-2.84, 0.54),
           (-2.82, 0.70), (-2.79, 0.49), (-2.77, 0.60), (-2.75, 0.42), (-2.72, 0.52), (-2.70, 0.63),
           (-2.67, 0.46), (-2.65, 0.55), (-2.62, 0.42), (-2.60, 0.51), (-2.57, 0.60), (-2.55, 0.45),
           (-2.53, 0.54), (-2.50, 0.42), (-2.48, 0.49), (-2.46, 0.57), (-2.43, 0.43), (-2.41, 0.51),
           (-2.38, 0.60), (-2.33, 0.48), (-2.31, 0.54), (-2.28, 0.43), (-2.24, 0.49), (-2.19, 0.52),
           (-2.14, 0.46), (-2.09, 0.51), (-2.06, 0.45), (-2.03, 0.54), (-1.99, 0.49), (-1.94, 0.46),
           (-1.90, 0.51), (-1.87, 0.49), (-1.82, 0.46), (-1.77, 0.43), (-1.75, 0.39), (-1.70, 0.45),
           (-1.63, 0.47), (-1.58, 0.42), (-1.47, 0.39), (-1.44, 0.43), (-1.41, 0.46), (-1.38, 0.48),
           (-1.24, 0.41), (-1.23, 0.32), (-1.19, 0.27), (-1.09, 0.36), (-2.69, -0.21), (-2.21, -0.19),
           (-2.01, -0.20), (-1.82, 0.37), (-2.96, 0.42), (-2.67, 0.33), (-3.05, 0.36), (-2.85, 0.38),
           (-2.58, 0.38), (-2.40, 0.36), (-2.22, 0.40), (-3.20, 0.30), (-3.10, 0.50), (-3.00, 0.55),
           (-2.93, 0.45), (-2.86, 0.50), (-2.78, 0.55), (-2.71, 0.47), (-2.63, 0.50), (-2.56, 0.47),
           (-2.50, 0.56), (-2.44, 0.47), (-2.36, 0.50), (-2.26, 0.46), (-2.16, 0.48), (-2.10, 0.43),
           (-2.00, 0.44), (-1.92, 0.42), (-1.85, 0.44), (-3.27, 0.45), (-2.82, 0.40), (-2.60, 0.40)]
ca_purple = [(-3.95, 0.39), (-3.84, 0.41), (-3.81, 0.34), (-3.76, 0.24), (-3.73, 0.39), (-3.70, 0.39),
             (-3.55, 0.11), (-3.57, 0.03), (-3.50, 0.73), (-3.47, 0.70), (-3.49, 0.21), (-3.45, 0.01),
             (-3.37, 0.30), (-3.35, 0.18), (-3.30, 0.29), (-3.25, 0.24), (-3.20, 0.32), (-3.13, 0.80),
             (-3.12, 0.21), (-3.08, 0.27), (-3.05, 0.73), (-3.02, 0.34), (-3.00, 0.18), (-2.96, 0.24),
             (-2.94, 0.34), (-2.89, 0.40), (-2.87, 0.21), (-2.79, 0.97), (-2.75, 0.61), (-2.72, 0.16),
             (-2.69, 0.24), (-2.57, 0.97), (-2.55, -0.05), (-2.44, 0.68), (-2.43, 0.23), (-2.29, 0.36),
             (-2.21, 0.62), (-2.09, 0.21), (-2.03, 0.06), (-2.00, 0.74), (-1.71, 0.12), (-1.31, 0.53),
             (-1.00, 0.11), (-2.29, 0.12)]
ca_teal = [(-1.89, 0.43), (-1.57, 0.35), (-1.21, 0.32), (-1.00, 0.21), (-0.86, 0.31), (-0.83, 0.24),
           (-0.80, 0.21), (-0.77, 0.30), (-0.74, 0.23), (-0.70, 0.21), (-0.67, 0.27), (-0.63, 0.24),
           (-0.60, 0.21), (-0.55, 0.31), (-0.50, 0.25), (-0.42, 0.18), (-0.39, 0.32), (-0.36, 0.23),
           (-0.33, 0.12), (-0.29, 0.18), (-0.27, 0.21), (-0.23, 0.15), (-0.21, 0.19), (-0.17, 0.12),
           (-0.15, 0.16), (-0.12, 0.15), (-0.09, 0.09), (-0.07, 0.33), (-0.04, 0.04), (-0.01, -0.02),
           (0.02, 0.06), (0.06, 0.03), (0.09, 0.0), (0.12, 0.04), (0.15, 0.0), (0.23, 0.03),
           (0.27, 0.01), (0.30, -0.03), (0.33, 0.09), (0.36, 0.0), (0.40, -0.05), (0.42, -0.02),
           (0.46, -0.06), (0.49, -0.03), (0.52, 0.06), (0.56, -0.04), (0.53, 0.01)]
ca_blue = [(-1.26, 0.45), (-1.28, 0.21), (-1.20, 0.33), (-0.83, 0.32), (-0.69, 0.33), (-0.55, 0.24),
           (-0.53, 0.15), (-0.38, 0.33), (-0.41, 0.19), (-0.28, 0.20), (-0.15, 0.15), (-0.01, 0.19),
           (0.14, 0.15), (0.35, -0.12), (0.40, -0.10), (0.48, 0.0)]
ca_red = [(-2.83, 0.30, 0.05, 0.1), (-2.77, 0.44, 0.05, 0.12), (-2.63, 0.35, 0.05, 0.12),
          (-2.53, 0.15, 0.05, 0.1), (-2.46, 0.37, 0.05, 0.1), (-2.30, 0.21, 0.05, 0.1),
          (-1.96, 0.27, 0.05, 0.1), (-1.96, 0.30, 0.1, 0.12), (-1.82, 0.03, 0.05, 0.1),
          (-1.74, 0.26, 0.1, 0.1)]
ca_orange = [(-2.78, 0.23, 0.05, 0.12), (-2.50, 0.27, 0.05, 0.12), (-2.37, 0.15, 0.3, 0.12)]

ti_grey = [(-3.86, 0.27), (-3.88, 0.14), (-3.86, -0.05), (-3.84, -0.16), (-3.79, -0.05), (-3.74, -0.08),
           (-3.71, 0.14), (-3.68, -0.08), (-3.64, -0.08), (-3.58, 0.20), (-3.53, 0.12), (-3.50, 0.14),
           (-3.44, 0.23), (-3.41, 0.38), (-3.40, -0.06), (-3.39, -0.10), (-3.40, -0.23), (-3.35, 0.15),
           (-3.32, 0.24), (-3.30, 0.17), (-3.28, 0.35), (-3.24, 0.21), (-3.23, -0.03), (-3.20, 0.14),
           (-3.18, 0.29), (-3.15, 0.22), (-3.13, 0.36), (-3.11, -0.08), (-3.11, -0.12), (-3.10, 0.17),
           (-3.07, 0.27), (-3.05, 0.21), (-3.04, 0.32), (-3.01, 0.14), (-2.99, 0.25), (-2.96, 0.38),
           (-2.95, 0.29), (-2.92, 0.18), (-2.90, 0.32), (-2.89, 0.24), (-2.86, 0.14), (-2.85, 0.35),
           (-2.84, 0.29), (-2.82, 0.21), (-2.79, 0.56), (-2.78, 0.30), (-2.76, 0.15), (-2.74, 0.36),
           (-2.72, 0.24), (-2.69, 0.32), (-2.67, 0.18), (-2.65, 0.39), (-2.63, 0.27), (-2.61, 0.33),
           (-2.58, 0.45), (-2.57, 0.23), (-2.55, 0.30), (-2.52, 0.36), (-2.50, 0.20), (-2.49, -0.34),
           (-2.48, 0.33), (-2.45, 0.41), (-2.43, 0.70), (-2.43, 0.26), (-2.41, 0.35), (-2.38, 0.44),
           (-2.36, 0.29), (-2.33, 0.36), (-2.31, 0.26), (-2.29, 0.39), (-2.26, 0.32), (-2.24, 0.24),
           (-2.19, 0.36), (-2.17, 0.29), (-2.13, 0.34), (-2.09, 0.30), (-2.05, 0.47), (-2.03, 0.26),
           (-2.00, -0.22), (-1.99, 0.33), (-1.95, 0.36), (-1.90, 0.40), (-1.87, 0.32), (-1.84, 0.35),
           (-1.81, 0.38), (-1.78, 0.24), (-1.75, 0.39), (-1.70, 0.36), (-1.66, 0.38), (-1.61, 0.36),
           (-1.57, 0.24), (-1.46, 0.36), (-1.42, 0.33), (-1.38, 0.32), (-1.27, 0.20), (-1.22, 0.41),
           (-1.09, 0.41), (-1.08, 0.17), (-3.05, 0.25), (-2.98, 0.30), (-2.93, 0.22), (-2.87, 0.27),
           (-2.80, 0.32), (-2.70, 0.28), (-2.64, 0.22), (-2.56, 0.28), (-2.47, 0.30), (-2.40, 0.28),
           (-2.34, 0.32), (-2.22, 0.30), (-2.14, 0.27), (-2.07, 0.33), (-3.14, 0.28), (-3.26, 0.18),
           (-3.33, 0.10), (-2.75, 0.20), (-2.90, 0.10), (-2.60, 0.32)]
ti_purple = [(-3.95, 0.45), (-3.78, 0.50), (-3.79, 0.36), (-3.76, 0.36), (-3.70, 0.44), (-3.84, 0.21),
             (-3.86, 0.14), (-3.57, 0.02), (-3.55, 0.57), (-3.50, 0.62), (-3.45, 0.74), (-3.52, 0.36),
             (-3.42, 0.15), (-3.36, 0.32), (-3.32, 0.41), (-3.30, 0.65), (-3.29, 0.62), (-3.28, 0.30),
             (-3.25, 0.50), (-3.24, 0.44), (-3.20, 0.25), (-3.15, 0.59), (-3.13, 0.77), (-3.10, 0.11),
             (-3.06, 0.50), (-3.03, 0.72), (-3.00, 0.74), (-2.99, 0.50), (-2.97, 0.56), (-2.94, 0.50),
             (-2.91, 0.26), (-2.90, 0.42), (-2.84, 0.50), (-2.73, 0.51), (-2.71, 0.47), (-2.67, 0.49),
             (-2.60, 0.47), (-2.53, 0.50), (-2.49, 0.39), (-2.43, 0.69), (-2.29, 0.67), (-2.16, 0.81),
             (-2.19, 0.65), (-1.00, 0.21), (-1.31, 0.02), (-3.15, 0.20), (-2.97, 0.20)]
ti_teal = [(-1.21, 0.37), (-1.00, 0.32), (-0.86, 0.37), (-0.83, 0.33), (-0.80, 0.36), (-0.75, 0.37),
           (-0.72, 0.32), (-0.68, 0.34), (-0.63, 0.37), (-0.60, 0.33), (-0.57, 0.32), (-0.54, 0.36),
           (-0.50, 0.32), (-0.43, 0.27), (-0.39, 0.35), (-0.36, 0.32), (-0.33, 0.27), (-0.28, 0.27),
           (-0.26, 0.21), (-0.23, 0.17), (-0.21, 0.24), (-0.18, 0.18), (-0.16, 0.14), (-0.13, 0.20),
           (-0.12, 0.11), (-0.08, 0.08), (-0.04, -0.03), (-0.02, -0.08), (0.03, -0.02), (0.06, 0.06),
           (0.09, 0.23), (0.12, 0.08), (0.15, 0.03), (0.20, 0.0), (0.22, 0.11), (0.26, 0.08),
           (0.28, -0.09), (0.32, 0.03), (0.35, 0.08), (0.37, 0.05), (0.40, 0.0), (0.42, 0.09),
           (0.45, -0.08), (0.47, -0.02), (0.51, 0.05), (0.53, 0.10), (0.56, 0.14), (0.50, 0.14)]
ti_blue = [(-1.28, 0.35), (-1.24, 0.38), (-1.29, 0.25), (-0.78, 0.32), (-0.77, 0.27), (-0.41, 0.45),
           (-0.38, 0.32), (-0.34, 0.31), (-0.02, 0.29), (-0.01, 0.12), (0.14, 0.17), (0.14, 0.23),
           (0.48, -0.10)]
ti_red = [(-2.83, 0.12, 0.05, 0.1), (-2.77, 0.42, 0.05, 0.1), (-2.62, 0.25, 0.05, 0.1),
          (-2.52, 0.27, 0.05, 0.1), (-2.46, -0.01, 0.05, 0.12), (-2.30, 0.32, 0.05, 0.1),
          (-1.96, 0.27, 0.05, 0.1), (-1.96, 0.21, 0.15, 0.1), (-1.82, 0.31, 0.05, 0.1),
          (-1.74, 0.39, 0.05, 0.1)]
ti_orange = [(-2.38, 0.86, 0.08, 0.12), (-2.81, 0.38, 0.05, 0.1), (-2.53, 0.26, 0.05, 0.1),
             (-2.35, 0.22, 0.3, 0.1)]

# ---------------------------------------------------------------- style
GREY = '#6c6c6c'
PURPLE = '#8c1d8c'
TEAL = '#1ba596'
BLUE = '#2d5ba6'
GREEN = '#5aa744'
RED = '#ec3127'
ORANGE = '#f48a20'
CROSS = '#f0564c'

W, H = 823.0, 890.0
fig = plt.figure(figsize=(W / 100, H / 100), dpi=100)


def make_ax(col, row):
    x0, w = (60.0, 340.0) if col == 0 else (470.0, 344.0)
    top, ph = 6.0, 166.8
    y_top = top + row * ph
    return fig.add_axes([x0 / W, 1 - (y_top + ph) / H, w / W, ph / H])


def dots(ax, pts, c):
    if len(pts):
        a = np.array(pts)
        ax.scatter(a[:, 0], a[:, 1], s=8, color=c, lw=0, zorder=2)


def tris(ax, pts, c):
    if len(pts):
        a = np.array(pts)
        ax.scatter(a[:, 0], a[:, 1], marker='^', s=30, color=c, edgecolors='#dff2ef',
                   linewidths=0.4, zorder=3)


def stars(ax, pts, c, z):
    if len(pts):
        a = np.array(pts)
        ax.errorbar(a[:, 0], a[:, 1], xerr=a[:, 2], yerr=a[:, 3], fmt='o', ms=9.5, color=c,
                    ecolor=c, elinewidth=1.3, capsize=0, mew=0, zorder=z)


def panel(ax, ylabel, ylim, major, minor, grey=(), purple=(), teal=(), blue=(), green=(),
          red=(), orange=(), crosses=(), bottom=False, labx=-0.115):
    ax.set_xlim(-4, 1)
    ax.set_ylim(*ylim)
    ax.axhline(0, color='k', ls=(0, (1, 2.2)), lw=1.0, zorder=1)
    ax.axvline(0, color='k', ls=(0, (1, 2.2)), lw=1.0, zorder=1)
    dots(ax, grey, GREY)
    dots(ax, purple, PURPLE)
    tris(ax, teal, TEAL)
    tris(ax, blue, BLUE)
    tris(ax, green, GREEN)
    if len(crosses):
        a = np.array(crosses)
        ax.scatter(a[:, 0], a[:, 1], marker='x', s=85, color=CROSS, linewidths=1.0, zorder=4)
    stars(ax, red, RED, 5)
    stars(ax, orange, ORANGE, 6)

    ax.xaxis.set_major_locator(MultipleLocator(1))
    ax.xaxis.set_minor_locator(MultipleLocator(0.1))
    yt = np.arange(ylim[0], ylim[1] + major / 2, major)
    ax.set_yticks(yt)
    ax.set_yticklabels(['%.1f' % v for v in yt])
    ax.yaxis.set_minor_locator(MultipleLocator(minor))
    ax.tick_params(which='both', direction='in', top=True, right=True, width=0.9)
    ax.tick_params(which='major', length=6)
    ax.tick_params(which='minor', length=3)
    ax.tick_params(axis='y', labelsize=9, pad=4)
    ax.tick_params(axis='x', labelsize=9, pad=8, labelbottom=bottom)
    for sp in ax.spines.values():
        sp.set_linewidth(1.0)
    labs = ax.get_yticklabels()
    labs[0].set_va('bottom')
    labs[-1].set_va('top')
    ax.set_ylabel(ylabel, fontsize=9)
    ax.yaxis.set_label_coords(labx, 0.5)
    if bottom:
        ax.set_xlabel('[Fe/H]', fontsize=9)
        ax.xaxis.set_label_coords(0.5, -0.2)


panel(make_ax(0, 0), 'Corrected [C/Fe]', (-1, 2), 1.0, 0.2, grey=c_grey, purple=c_purple,
      red=c_red, crosses=c_cross)
panel(make_ax(0, 1), '[O/Fe]', (-0.5, 2), 0.5, 0.1, grey=o_grey, teal=o_teal, blue=o_blue,
      green=o_green, red=o_red)
panel(make_ax(0, 2), '[Na/Fe]', (-1, 1), 0.5, 0.1, grey=na_grey, purple=na_purple, teal=na_teal,
      blue=na_blue, red=na_red, orange=na_orange)
panel(make_ax(0, 3), '[Mg/Fe]', (-0.5, 1), 0.5, 0.1, grey=mg_grey, purple=mg_purple, teal=mg_teal,
      blue=mg_blue, green=mg_green, red=mg_red, orange=mg_orange)
panel(make_ax(0, 4), '[Al/Fe]', (-2, 1), 1.0, 0.2, grey=al_grey, purple=al_purple, teal=al_teal,
      blue=al_blue, red=al_red, bottom=True)

panel(make_ax(1, 0), '[Si/Fe]', (-0.5, 1), 0.5, 0.1, grey=si_grey, purple=si_purple, teal=si_teal,
      blue=si_blue, green=si_green, red=si_red, orange=si_orange, labx=-0.099)
panel(make_ax(1, 1), '[K/Fe]', (-0.5, 1.5), 0.5, 0.1, grey=k_grey, red=k_red, labx=-0.099)
panel(make_ax(1, 2), '[Ca/Fe]', (-0.5, 1), 0.5, 0.1, grey=ca_grey, purple=ca_purple, teal=ca_teal,
      blue=ca_blue, red=ca_red, orange=ca_orange, labx=-0.099)
panel(make_ax(1, 3), '[Ti/Fe]', (-0.5, 1), 0.5, 0.1, grey=ti_grey, purple=ti_purple, teal=ti_teal,
      blue=ti_blue, red=ti_red, orange=ti_orange, bottom=True, labx=-0.099)

fig.savefig('out.png', dpi=100)
